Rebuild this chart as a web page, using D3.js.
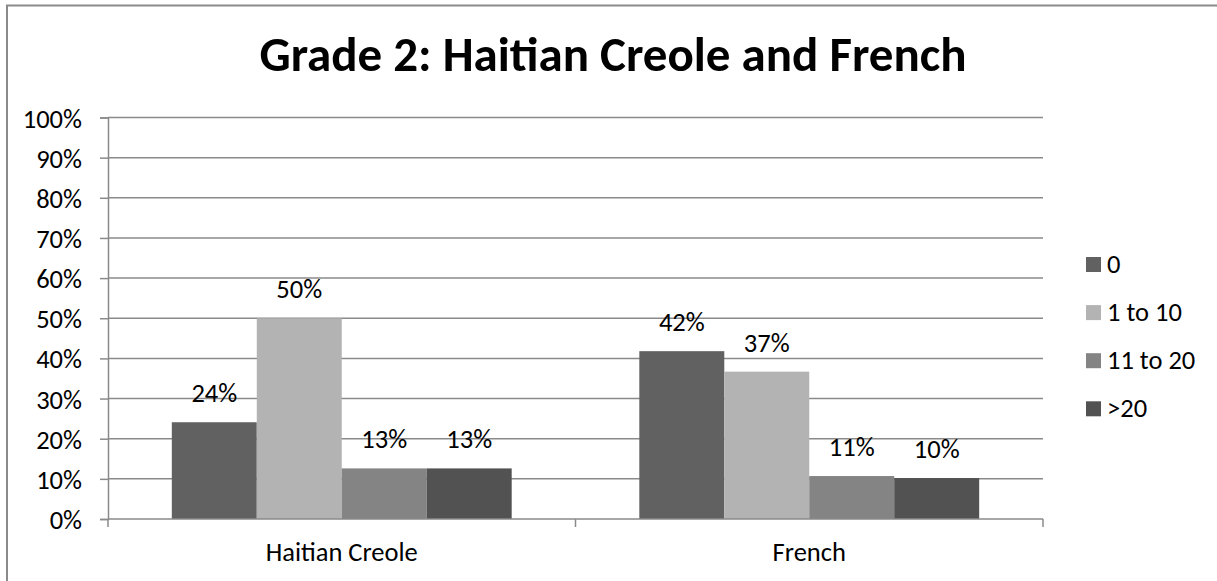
<!DOCTYPE html>
<html>
<head>
<meta charset="utf-8">
<script src="https://cdn.jsdelivr.net/npm/d3@7"></script>
<style>
  html, body { margin: 0; padding: 0; background: #fff; }
  svg { display: block; font-family: Carlito, Lato, sans-serif; }
</style>
</head>
<body>
<svg id="chart" width="1217" height="581"></svg>
<script>
// Share of grade 2 responses per language, by count band
const languages = ["Haitian Creole", "French"];
const bands = ["0", "1 to 10", "11 to 20", ">20"];
const haitianCreole = [0.241, 0.500, 0.126, 0.126];
const french = [0.418, 0.367, 0.107, 0.102];
const bandColors = ["#616161", "#b3b3b3", "#848484", "#525252"];
const yTicks = [0, 0.1, 0.2, 0.3, 0.4, 0.5, 0.6, 0.7, 0.8, 0.9, 1.0];

const seriesByLanguage = [haitianCreole, french];
const rows = languages.map((lang, i) => ({
  lang,
  values: bands.map((b, j) => ({ band: b, value: seriesByLanguage[i][j] }))
}));

const svg = d3.select("#chart");
const gridColor = "#8a8a8a";
const pct = d3.format(".0%");
const labelSize = 26.5;

// Outer frame (top and left edges fall inside the canvas)
svg.append("path")
  .attr("d", "M7,600 L7,5.5 L1230,5.5")
  .attr("fill", "none").attr("stroke", gridColor).attr("stroke-width", 2);

// Title
svg.append("text")
  .attr("x", 613).attr("y", 71)
  .attr("text-anchor", "middle")
  .attr("font-size", 49).attr("font-weight", "bold").attr("fill", "#000")
  .text("Grade 2: Haitian Creole and French");

const plot = { left: 108, right: 1043, top: 117.5, bottom: 519 };

const y = d3.scaleLinear().domain([0, 1]).range([plot.bottom, plot.top]);
const x0 = d3.scaleBand().domain(languages).range([plot.left, plot.right])
  .paddingInner(0).paddingOuter(0);
const groupWidth = x0.bandwidth() * 0.727;
const x1 = d3.scaleBand().domain(bands).range([0, groupWidth]).padding(0);
const groupOffset = (x0.bandwidth() - groupWidth) / 2;

// Horizontal gridlines
svg.append("g").selectAll("line").data(yTicks.filter(t => t > 0)).join("line")
  .attr("x1", plot.left).attr("x2", plot.right)
  .attr("y1", d => y(d)).attr("y2", d => y(d))
  .attr("stroke", gridColor).attr("stroke-width", 1.5);

// Y axis
const yAxis = d3.axisLeft(y).tickValues(yTicks).tickFormat(pct).tickSize(8).tickPadding(18);
const gy = svg.append("g").attr("transform", `translate(${plot.left},0)`).call(yAxis);
gy.select(".domain").attr("stroke", gridColor).attr("stroke-width", 1.5);
gy.selectAll(".tick line").attr("stroke", gridColor).attr("stroke-width", 1.5);
gy.selectAll(".tick text").attr("font-size", labelSize).attr("fill", "#000")
  .attr("font-family", "Carlito, Lato, sans-serif").attr("dy", "0.36em");

// Bars
const groups = svg.append("g").selectAll("g").data(rows).join("g")
  .attr("transform", d => `translate(${x0(d.lang) + groupOffset},0)`);

groups.selectAll("rect").data(d => d.values).join("rect")
  .attr("x", d => x1(d.band))
  .attr("width", x1.bandwidth())
  .attr("y", d => y(d.value))
  .attr("height", d => y(0) - y(d.value))
  .attr("fill", (d, i) => bandColors[i]);

// Value labels above bars
groups.selectAll("text").data(d => d.values).join("text")
  .attr("x", d => x1(d.band) + x1.bandwidth() / 2)
  .attr("y", d => y(d.value) - 20)
  .attr("text-anchor", "middle")
  .attr("font-size", labelSize).attr("fill", "#000")
  .text(d => pct(d.value));

// X axis with category ticks at boundaries
const gx = svg.append("g").attr("transform", `translate(0,${plot.bottom})`);
gx.append("line").attr("x1", plot.left).attr("x2", plot.right)
  .attr("stroke", gridColor).attr("stroke-width", 1.5);
const boundaries = languages.map(l => x0(l)).concat([plot.right]);
gx.selectAll("line.tick").data(boundaries).join("line")
  .attr("class", "tick")
  .attr("x1", d => d).attr("x2", d => d).attr("y1", 0).attr("y2", 8)
  .attr("stroke", gridColor).attr("stroke-width", 1.5);
gx.selectAll("text").data(languages).join("text")
  .attr("x", d => x0(d) + x0.bandwidth() / 2)
  .attr("y", 42)
  .attr("text-anchor", "middle")
  .attr("font-size", labelSize).attr("fill", "#000")
  .text(d => d);

// Legend
const legend = svg.append("g").attr("transform", "translate(1086,257)");
const item = legend.selectAll("g").data(bands).join("g")
  .attr("transform", (d, i) => `translate(0,${i * 48.1})`);
item.append("rect").attr("width", 15).attr("height", 15)
  .attr("fill", (d, i) => bandColors[i]);
item.append("text").attr("x", 21).attr("y", 15.5)
  .attr("font-size", labelSize).attr("fill", "#000")
  .text(d => d);
</script>
</body>
</html>
